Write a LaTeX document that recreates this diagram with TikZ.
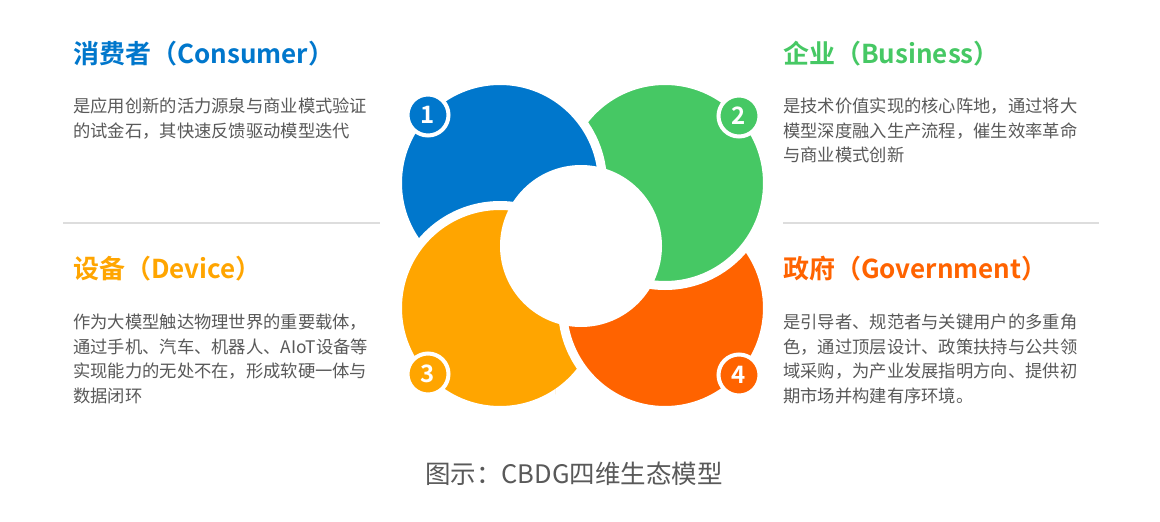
\documentclass[tikz,border=0pt]{standalone}
\usepackage{fontspec}
\newfontfamily\cjk[BoldFont={Noto Sans CJK SC Bold}]{Noto Sans CJK SC}
\definecolor{cblue}{HTML}{0077CC}
\definecolor{cgreen}{HTML}{46C864}
\definecolor{corange}{HTML}{FFA500}
\definecolor{cred}{HTML}{FF6300}
\definecolor{cbody}{HTML}{595959}
\definecolor{cline}{HTML}{DDDDDD}
\tikzset{
  petal/.style={draw=white, line width=9pt},
  badge/.style={circle, draw=white, line width=4pt, minimum size=41pt, inner sep=0pt,
    text=white, font=\cjk\bfseries\fontsize{24}{24}\selectfont},
  ttl/.style={anchor=base west, inner sep=0pt, font=\cjk\bfseries\fontsize{26}{26}\selectfont},
  bodyline/.style={anchor=base west, inner sep=0pt, text=cbody, font=\cjk\fontsize{17.3}{17.3}\selectfont},
  sep/.style={draw=cline, line width=2pt}
}
\begin{document}
\begin{tikzpicture}[x=1pt,y=-1pt]
\useasboundingbox[fill=white] (0,0) rectangle (1160,522);
% petals (cyclic overlap: blue>green>red>orange>blue)
\fill[corange, petal] (500,308) circle[radius=102.5pt];
\fill[cred, petal] (665,308) circle[radius=102.5pt];
\fill[cgreen, petal] (665,183) circle[radius=102.5pt];
\fill[cblue, petal] (500,183) circle[radius=102.5pt];
\begin{scope}
  \clip (380,200) rectangle (555,430);
  \fill[corange, petal] (500,308) circle[radius=102.5pt];
\end{scope}
\fill[white] (581,246) circle[radius=81pt];
% badges
\node[badge, fill=cblue] (b1) at (428,115) {1};
\node[badge, fill=cgreen] (b2) at (739,116) {2};
\node[badge, fill=corange] (b3) at (428,374) {3};
\node[badge, fill=cred] (b4) at (739,375) {4};
% separators
\coordinate (l1) at (63,223); \coordinate (l2) at (380,223);
\coordinate (r1) at (783,223); \coordinate (r2) at (1099,223);
\draw[sep] (l1) -- (l2);
\draw[sep] (r1) -- (r2);
% titles
\node[ttl, text=cblue] (t1) at (73,63) {消费者（Consumer）};
\node[ttl, text=cgreen] (t2) at (783,63) {企业（Business）};
\node[ttl, text=corange] (t3) at (73,278) {设备（Device）};
\node[ttl, text=cred] (t4) at (783,278) {政府（Government）};
% bodies
\node[bodyline] (c1) at (73,112.5) {是应用创新的活力源泉与商业模式验证};
\node[bodyline] (c2) at (73,137) {的试金石，其快速反馈驱动模型迭代};
\node[bodyline] (e1) at (783,112.5) {是技术价值实现的核心阵地，通过将大};
\node[bodyline] (e2) at (783,137) {模型深度融入生产流程，催生效率革命};
\node[bodyline] (e3) at (783,161.7) {与商业模式创新};
\node[bodyline] (d1) at (73,328.5) {作为大模型触达物理世界的重要载体，};
\node[bodyline] (d2) at (73,353) {通过手机、汽车、机器人、AIoT设备等};
\node[bodyline] (d3) at (73,377.5) {实现能力的无处不在，形成软硬一体与};
\node[bodyline] (d4) at (73,402) {数据闭环};
\node[bodyline] (g1) at (783,328.5) {是引导者、规范者与关键用户的多重角};
\node[bodyline] (g2) at (783,353) {色，通过顶层设计、政策扶持与公共领};
\node[bodyline] (g3) at (783,377.5) {域采购，为产业发展指明方向、提供初};
\node[bodyline] (g4) at (783,402) {期市场并构建有序环境。};
% caption
\node[anchor=base, inner sep=0pt, text=cbody, font=\cjk\fontsize{25.5}{25.5}\selectfont] (cap) at (574,483) {图示：CBDG四维生态模型};
\end{tikzpicture}
\end{document}
